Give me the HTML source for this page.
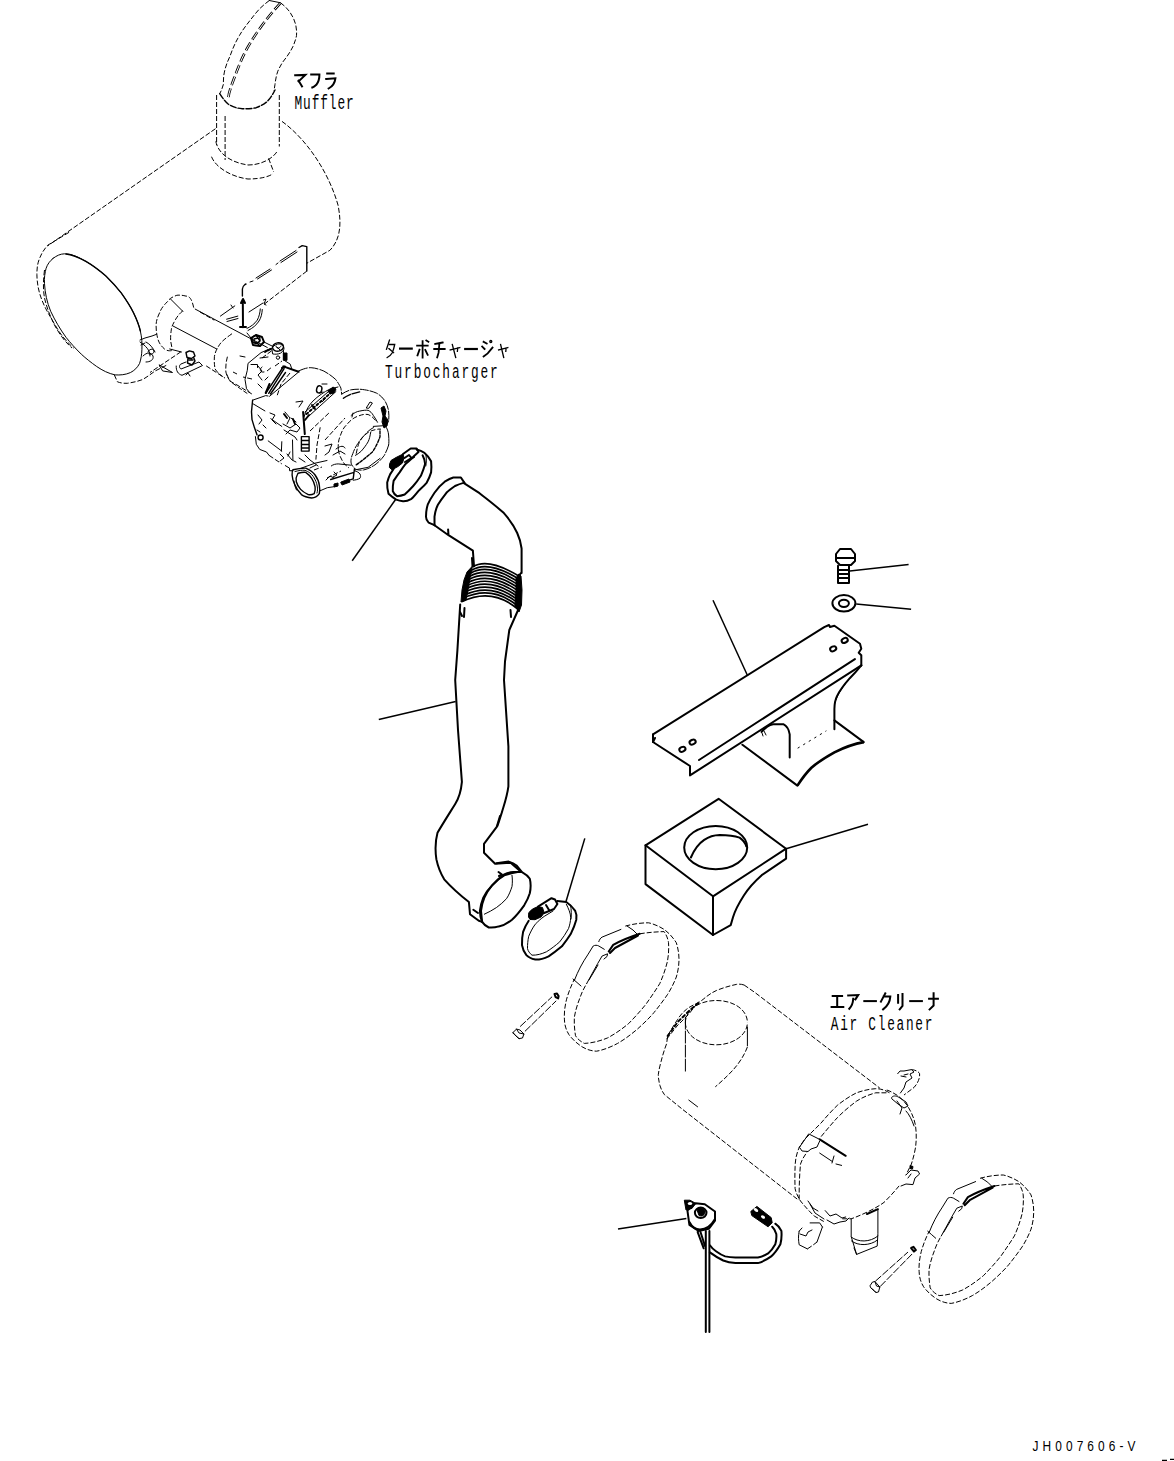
<!DOCTYPE html>
<html><head><meta charset="utf-8">
<style>
html,body{margin:0;padding:0;background:#fff;width:1174px;height:1461px;overflow:hidden}
svg{position:absolute;left:0;top:0}
.s{fill:none;stroke:#000;stroke-width:1;stroke-linecap:round;stroke-linejoin:round}
.d{fill:none;stroke:#000;stroke-width:1;stroke-dasharray:5 2}
.dd{fill:none;stroke:#000;stroke-width:1;stroke-dasharray:3 2}
.t{fill:none;stroke:#000;stroke-width:2;stroke-linecap:round;stroke-linejoin:round}
.k{fill:none;stroke:#000;stroke-width:2;stroke-linecap:round;stroke-linejoin:round}
.k1{fill:none;stroke:#000;stroke-width:1.4;stroke-linecap:round;stroke-linejoin:round}
.f{fill:#000;stroke:#000;stroke-width:1}
.tx{font-family:"Liberation Mono",monospace;fill:#000}
</style></head>
<body>
<svg width="1174" height="1461" viewBox="0 0 1174 1461">
<!-- MUFFLER -->
<g id="muffler">
<path class="d" d="M280.6,2.8 C284,5.5 287.5,8.5 289.9,12.2 C292.5,16 294.5,20 295.6,24.4 C296.5,28 296.8,32 296.5,35.6 C295.8,39.5 294.5,43 292.8,46.8 C290.5,51.5 287.5,56 284.3,60 C281.5,63.5 279.5,67.5 277.8,71.2 C276.3,75.5 275.5,80 275,84.3 L274,90.9"/>
<path class="d" d="M269.3,0.5 C266,3 263,5.5 260,8.4 C256.5,12 253.5,16 250.6,19.7 C246.5,25 242.5,30 239.4,35.6 C235.5,42 232.5,49 230,56.2 C227.5,61.5 225.5,66.5 224.4,72.1 C223.5,76 223.3,80 223.4,84.3 C222.5,87.5 221.5,90.5 219.7,93.7"/>
<path class="s" d="M269.3,0.5 L280.6,2.8"/>
<path fill="none" stroke="#000" stroke-width="2.6" stroke-dasharray="9 3.5" d="M280.6,2.8 C275,9 270,15 265.6,20.6 C261,26.5 256.5,33 252.5,39.4 C248.5,45.5 245,52 242.2,58.1 C239.5,64.5 237,70.5 234.7,76.8 C232.5,82.5 230.5,88 229,93.7 L228,100"/><path fill="none" stroke="#fff" stroke-width="1" stroke-dasharray="9 3.5" d="M280.6,2.8 C275,9 270,15 265.6,20.6 C261,26.5 256.5,33 252.5,39.4 C248.5,45.5 245,52 242.2,58.1 C239.5,64.5 237,70.5 234.7,76.8 C232.5,82.5 230.5,88 229,93.7 L228,100"/>
<path class="k1" stroke-dasharray="6 2" d="M219.7,93.7 C222,97.5 225,101 228.1,104 C232.5,107 237.5,108.5 242.2,108.7 C247,109 251.5,108.7 256.2,107.7 C260.5,106 264.5,104 267.5,101.2 C270.5,98 273,94 275,90"/>
<path class="d" d="M216.6,95 L216.6,145 M225.1,116 L225.1,160 M279.3,95 L279.3,146.5"/>
<path class="d" d="M215.8,141.4 C218,152 228,162 248,165 C262,165 273,158 277,151.6"/>
<path class="d" d="M211.5,156.7 C216,168 232,177 248,179 C262,179 270,176 272.8,173.8 M268.6,158.4 L273.7,172"/>
<path class="d" d="M215.5,128.7 L47.5,246"/>
<path class="d" d="M282,121.4 C305,138 328,170 338,205 C342,225 340,240 329.9,250.3 L306.7,263.3"/>
<path class="d" d="M69.1,232.3 L47.6,245.3 C44,249.5 41.5,253.5 39.9,257.6 C37.5,263 36.8,268.5 36.9,274.5 C37,283 38.5,291 41.5,299 C44,305.5 47,311.5 50.7,317.4 C53.5,322.5 56.5,327.5 59.9,332.7 C63.5,338 68,343 73.7,348.1"/>
<path class="s" d="M53,258.4 C57,255.5 60,254 64.5,253.8 C72,254 79,257.5 85.9,261.4 C93,265.5 99.5,270.5 105.9,276 C111.5,281.5 116.5,287 121.2,292.9 C125.5,299 130,305.5 133.5,312.8 C136.5,319 139,325 140.4,331.2 C141.8,337.5 142.2,343.5 141.9,349.6 C141.8,354.5 141,359 139.6,363.4 C137.5,367.5 134.5,370.5 130.4,372.6 C125.5,374.8 120,375.2 115.1,374.9 C108.5,373.5 102.5,370.5 96.7,366.5 C91,362.5 86,358.5 81.3,354.2 C75.5,348.5 70.5,343 66,337.3 C60,329 55,320.5 50.7,311.3 C47,302.5 45,293 44.5,283.7 C44,278 45,272.5 46.1,268.3 C47.5,264 50,261 53,258.4 Z"/>
<path class="k1" d="M66,254 C72,254.5 79,257.5 85.9,261.4 C93,265.5 99.5,270.5 105.9,276 C111.5,281.5 116.5,287 121.2,292.9 C125.5,299 130,305.5 133.5,312.8 C136.5,319 139,325 140.4,331.2"/>
<path class="d" d="M44.5,270 C43,282 43,292 45,300 C47.5,310 51,318 55,326 C59,333 64,341 72,348"/>
<path class="d" d="M114.3,374.9 L117.4,381.8 C120.5,383 124,383.5 127.3,383.3 C132.5,382.5 137.5,381.5 142.7,379.5 C147,377 151,374 154.9,371.1 L167.2,364.9"/>
<path class="s" d="M140,340 L145,338 L152,336 L156.5,334.3 M141,345 L145,343 M146,342 C150,344 153,348 155,352 M148,352 C149,349 153,348 154,351 C154,354 151,355 149,354"/>
<path class="k1" d="M299,247.5 L302.2,245.6 L306.8,246.6 L306.8,271.1"/>
<path class="d" d="M306.8,271.1 L263.4,304.8"/>
<path class="s" d="M263.4,300 L266,299 L264,304 L266,305 M249,312 L263,303"/>
<path class="k1" d="M242.4,289 C242.5,287 243,286 245,284.5 L246,284 M242.4,289 L242.4,296"/>
<path class="s" d="M256,278 L270,269 M257.5,279 L271.5,270 M280,261 L296,250.5 M281,262.5 L297,252 M250,282 L253,281 M276,264.5 L278,263"/>
<path class="t" d="M242.8,300 L243,327.3 M241,303 L243,299 L245,303 M240,327 L246,327"/>
<path class="s" d="M220.4,316.1 L234.8,305.9 M231,305 L233,308 M226.6,319.2 L237.8,316.1 M227,321.5 L238,318.5"/>
<path class="s" d="M260.3,308.9 C260,313 259,317 257.2,320.2 C254.5,324 251,326.5 247,328.4 M262.3,309.5 C262,314 261,318 259,321 C256.5,325 253,328 248,330.5"/>
</g>

<!-- EXHAUST PIPE + TURBO -->
<g id="turbo">
<path class="d" d="M193.7,307.6 C192,300 190,296 186,296.1 C182,295 178,295 176.8,295.3 C172,297 169,299 167.6,301.5 C163,306 161,309 159.9,312.2 C157,318 156,322 156.1,326 C156,331 157,335 157.6,338.3 C159,343 161,346 164.5,349 C167,351 170,351 172.2,350.5"/>
<path class="s" d="M170.7,299.2 L182.9,311.4"/>
<path class="d" d="M182.9,310.7 C179,314 177,317 175.3,319.9 C173,324 171.5,327 171.4,329.1 C170.5,335 170.5,338 170.7,341.3 L172.2,349"/>
<path class="s" d="M195.2,309.1 L267.3,347.5 M173,326 L216.7,349"/>
<path class="d" d="M180.9,351.8 L150,372.5 M206.2,365.9 L225,378.1 M226.8,374.3 L229.6,380.9 L238.1,385.6 L253.5,395"/><path class="s" d="M169.7,349 L181.5,352"/>
<path class="d" d="M232,333.7 C226,338 222,341 219.7,344.4 C216,350 215,353 214.4,356.7 C214,362 214.5,366 215.1,368.9 C217,372 220,375 222.8,376.6"/>
<path class="d" d="M227.4,356.7 C226,362 225.5,367 225.9,372 C227,377 229,380 232,382.7 C238,387 242,390 247.3,393.5"/>
<path class="d" d="M200,312 L214.3,320.2"/>
<circle class="k1" cx="256" cy="339.5" r="4"/>
<path class="k1" d="M186,352.5 L189.5,350.9 L193.5,352 L195,356 L191.5,358.5 L187,357.5 Z M188,357.5 L187.5,363 L192,365 L195,361 L193.5,357 M189,360 L193,360"/><path class="s" d="M176.2,366 C176,371 178,374 182,375.3 L202.5,365.5 L199,362 L181,369 C179,368 179,365 181,364 L186,362 M186,375 L188,373 L190,376"/><path class="s" d="M159.4,365 L172.5,372.5 L163,371 Z"/>
<path class="s" d="M140,342 C146,346 150,350 150,356 M143,356 C147,352 151,352 153,356 C154,360 150,362 146,362"/>
<path class="s" d="M272,348 C276,342 283,343 284,348 C284,353 278,355 273,354 Z M277,347 L281,351"/>
<path class="s" d="M268,357 L260,358 M245,357 L240,356"/>
<!-- housing upper block -->
<path class="t" d="M251,338 L256,335 L262,337 L264,342 L260,346 L253,345 Z"/>
<path class="k1" d="M254,339 L258,338 L260,341 L257,343 L254,342 Z M256,335 L258,338 M260,346 L257,343"/>
<path class="s" d="M247,333 L251,338 M264,342 L272,346"/>
<ellipse class="k1" cx="278" cy="347" rx="5.5" ry="4.2" transform="rotate(-10 278 347)"/>
<path class="s" d="M276,346 C276,349 280,349 281,346"/>
<circle class="s" cx="278" cy="357.6" r="1.7"/>
<path class="f" d="M283.3,353 L287,353 L287,360.3 L283.3,360.3 Z"/>
<path class="s" d="M271,348.4 L261.1,352.6 L248,363.4 L247.3,370.3 L245,379.5 L246.5,388.7 L249.6,392.5"/>
<path class="t" d="M267.5,350.5 L271,348.8 M265,352 L268,350"/>
<path class="s" d="M283.3,350.3 L284.1,360.3 L290.2,364.1 L291.7,368.7"/>
<path class="s" d="M251,364.5 L257.5,364.5 L257.5,367.5 M258,366 L262,371 L258,375 L262,380 M262,367 C259,369 260,373 264,372 M265,380 L268,377 M258,384 L262,388"/>
<path class="d" d="M262,358 L274,349 M275,366 L282,361 M267,371 L272,367"/>
<path class="k1" d="M265.7,393.3 L282.5,368 M268.7,393.3 L284.1,368.7 M270.5,394 L285.5,372.5"/>
<path class="t" d="M265.7,393 L269.5,384 M282,368 L285,366.5"/>
<path class="t" d="M283.3,366.4 L298.6,371.8"/>
<path class="s" d="M297.9,372.6 L269.5,396.3"/>
<path class="d" d="M290,373 L281,384 L277,396"/>
<path class="d" d="M252,379 L243,377 M237,374 L233,372"/>
<!-- lower housing -->
<path class="s" d="M252.6,400.2 L265.7,395.6 L268,396 M253.4,404 L264.9,410.9"/>
<path class="k1" d="M252.6,400.2 L251.5,411.7 L252,419.6 L254.6,428.1 L257.1,434.9"/>
<path class="s" d="M255.4,436.6 L256.3,444.3 L259.7,449.4 L266.5,452 L269.1,455.4"/>
<circle class="k1" cx="260.6" cy="437.5" r="2.5"/>
<path class="d" d="M269.1,455.4 L281.8,463.9"/>
<path class="s" d="M285.3,465.6 L289.5,468.1 L289.5,470.7 L292.9,470.7"/>
<path class="s" d="M268.2,440.9 L281.8,451.1 M270.8,418.7 L281.8,426.4 M281.8,441.7 L281.4,451.1 M292.5,440 L292.9,459.6"/>
<path class="t" d="M303.1,411.9 L304.8,434.1"/>
<path class="k1" d="M301.4,436.6 L309.1,436.6 L309.1,451.1 L301.4,451.1 Z M301.4,440.5 L309.1,440.5 M301.4,444.5 L309.1,444.5 M301.4,448 L309.1,448"/>
<path class="d" d="M320.2,427.3 L317,445 L315.9,459.6"/>
<path class="s" d="M258,415 L262,420 L259,424 M263,425 L266,428 M257,430 L260,432"/>
<path class="s" d="M270,413 L275,415 L272,420 L276,424 M285,412 L290,418 L287,424 M291,418 L296,422"/>
<path class="t" d="M284,414 L287,418 M293,419 L295,424"/>
<path class="s" d="M283,424 L290,428 L296,424 L300,428 L297,432 L290,430 L286,434 M284,430 L295,437 L297,440 M287,454 L292,460 L296,462"/>
<path class="s" d="M280,454 L284,458 L280,461 M288,456 L290,452"/>
<path class="s" d="M305,455 L310,460 L318,466 M299,458 L305,462 M310,468 L316,465"/>

<!-- compressor -->
<path class="s" stroke-dasharray="9 2" d="M298.6,371 C304,368.5 308,367.5 311.1,367.7 C316,368 320,369.5 323.9,371.1 C329,374 332.5,376.5 335.8,379.6 C338,382.5 340,386 340.9,388.1 L341.7,394.1"/>
<path class="s" stroke-dasharray="8 1.8" d="M341.7,394.1 C345,392 348,390.5 351.1,389.8 C356,389 360,389 364.7,389.8 C369,390.5 373,391.5 376.7,393.2 C380,395 382,397 384.3,400 C386.5,403 388,407 388.6,411.1 C389,415 389,418 388.6,421.3 L385.2,426.4"/>
<path class="k1" stroke-dasharray="8 1.8" d="M343.4,398.3 C346,396 349,395 351.1,394.1 L359.6,391.9"/>
<path class="f" d="M381,408 L384,406 L386,411 L385,416 L388,420 L387,426 L384,428 L382,422 L383,416 Z"/>
<path class="s" d="M373.3,426.4 L385.2,425.6 C387,428 388.5,432 388.6,435 C389,440 389,443 388.6,445.2"/>
<path class="s" stroke-dasharray="8 1.8" d="M388.6,445.2 C387.5,449 386,452 384.3,455.4 C381,460 378,462.5 375,464.8 C371,467.5 367.5,469 363.9,469.9 C360.5,470.5 357.5,470 355.4,469 C353,467 351.5,465 351.1,463.1 C350.5,460 351.5,456.5 352.8,453.7 C354,450 356,446 357.9,443.5 C360,440 362,437.5 364.7,435 C367.5,431.5 370.5,429 374.1,427.3"/>
<path class="s" d="M370.7,432.4 C370,436 369.5,439 368.1,441.8 C366,445.5 363.5,448.5 361.3,451.1 C359,453 357.5,454.5 355.4,455.4"/>
<path class="d" d="M356.2,453.7 C357,449.5 358,445 359.6,441.8 C362,437.5 365,434.5 368.1,432.4 C371.5,430.5 375,429.5 379.2,429"/>
<path class="k1" stroke-dasharray="3 1.5" d="M356.2,464.8 C362,461 367,456.5 372.4,452 C376,447 378.5,441 380,436.7 L380,429"/>
<path class="d" d="M338.3,449.4 C338,444 338.5,440 340,436.7 C342,430.5 344,427 346.8,424.7 C350,420.5 354,417.5 357.9,416.2 C362,414.5 365,414 368.1,414.5 C372,416 374.5,419 376.7,422.2"/>
<path class="d" d="M338.3,449.4 C339,455 341.5,460 344.5,464 L349,468"/>
<path class="s" d="M351.1,415.4 C354,413 356.5,411.5 359.6,411.1 C363,410.3 366,410 368.1,410.3 C370.5,411.5 372,413 373.3,415.4 C375,418 376.5,420 377.5,422.2"/>
<path class="s" d="M352,417 L353,413"/>
<path class="s" d="M366.4,407.7 L370,402 L372.4,403 L369,408 Z"/>
<ellipse class="k1" cx="319.2" cy="389.4" rx="2.6" ry="3.6" transform="rotate(15 319.2 389.4)"/>
<path class="s" d="M305,412 L332,388.5 M309,416 L336,391.5 M304,417 C306,410 309,405 313,401 C318,396 324,392 330,389 L338,387"/>
<path class="t" stroke-dasharray="2 2.5" d="M306.5,414 L334,390"/>
<path class="f" d="M328,391 L333,387 L336,389 L334,393 L330,394 Z"/>
<path class="t" d="M312,405 L315,409 M305,420 L309,415"/>
<path class="s" d="M322,384 L327,384 M320,393 L323,392"/>
<path class="d" d="M310,431 L330,412 M325,440 L345,418 M322,402 L327,397"/>
<path class="s" d="M296,402 L303,401 L299,407"/>
<path class="s" d="M333,455 L340,451 L345,454 M336,449 C341,445 344,446 345,448"/>
<path class="s" d="M325,446 L332,444 L329,452 L325,455"/>
<!-- outlet -->
<path class="k1" d="M292.9,469.8 C298,468.5 302,468 305.7,468.1 C310,470 313,472 315.1,475 C317.5,478.5 319,482 319.3,485.2 C320,489 320,491 319.3,493.7 C317,497 314.5,498 311.7,498 C307,497.5 304,496.5 301.4,494.6 C298,491 296,488 294.6,484.3 C293,481 292.3,478 292.1,475 C292,472 292.3,470.5 292.9,469.8 Z"/>
<path class="s" d="M295,471.5 C299,470.5 302,470 305,470.3 C309,471.8 311.5,474 313.3,476.5 C315.5,480 316.8,483 317.2,486 C317.8,489 317.6,491 317,493 M296.5,490 C295,487 294.2,484 294,481"/>
<path class="k1" d="M298,473.3 C301,472.5 303.5,472 305.7,472.4 C308,474 310,476 311.7,478.4 C313.5,481 314.5,484 315.1,486.9 C315.5,489.5 315,492 314.2,493.7 C312,494.8 310,495 308.3,494.6 C305,493 302.5,491.5 300.6,489.4 C298.5,487 297,484.5 296.3,481.8 C295.5,479 296,477 297.2,475 Z"/>
<path class="s" d="M319.3,491.1 L327.3,487.7 L336.8,486.3 M300,468.6 L315,463.2 L327,460.5"/>
<path class="k1" d="M340.9,482.9 L353.2,478.8 L354.5,468.6 M330.7,479.5 L353.2,472.7"/>
<path class="s" d="M331.3,465.9 C333,464.5 336,463.9 338.2,463.9 L351.1,465.2"/>
<path class="s" d="M354.5,470 L368.1,467.3 L380,458.4"/>
<path class="s" d="M354.5,470.7 C357,471.5 359,472.5 360,474 C361,476 360.5,477.5 360,478.2 C358,479.5 355.5,480 353.2,480.2"/>
<path class="d" d="M327,478 L341,471 M314,470 L322,467"/>
<path class="f" d="M341,482 L349,479 L350,482 L342,485 Z M334,484 L338,483 L338,486 L334,487 Z"/>
<path class="s" d="M334,472 L337,475 L333,477"/>
<path class="s" d="M326,480 L330,476 L334,478"/>
</g>

<!-- HOSE + CLAMPS -->
<g id="hose">
<!-- clamp 1 -->
<path class="t" d="M416.6,449.4 C419.5,450 422,451 424.3,452.8 C427.5,455.5 429.5,458 431.1,461.3 C431.5,465 431.5,469 431.1,472.4 C430,476 428.5,479.5 426.8,482.6 C424,486 421,488.5 418.3,491.1 C416,494 414,496.5 411.5,498.8 C408.5,500.5 406,501.5 403,501.3 C400.5,501 398.5,500.5 396.2,499.6 C393,497.5 390.5,495.5 388.5,493.7 C387.5,490 387,486 387.2,482.6 C388,479.5 389,476.5 390.2,474.1 L393.6,469"/>
<path class="k" d="M422.6,455.3 C424,458 425,461 425.1,463.9 C424,468 422.5,472 420.9,475.8 C418.5,479.5 416,483 413.2,486 C410.5,489 407.5,492 404.7,494.5 C402,495.5 399.5,496 397,496.2 C395,495 393.5,493 392.8,491.1 C392.5,487.5 393,484 393.6,480.9 C395.5,478 397.5,475 399.6,472.4 C401.5,469.5 403.5,466.5 405.6,463.9 C408.5,461.5 411,459 414.1,457"/>
<path class="s" d="M426,455.5 C426.5,459 426.5,463 425.8,466"/>
<path class="f" d="M389.6,464 L391,460.5 L396,457.5 L403,454 L404,458 L402.5,463 L398,466.5 L392,469.8 L389.4,467.5 Z"/>
<path class="k" d="M403,454 L410.7,448.5 L416.6,448.5 L418.5,452 L413,457 L405,462 M404.5,458 L409,455 L411,457.5"/>
<path fill="none" stroke="#000" stroke-width="1.5" d="M395.4,499.8 L352.2,560.7"/>
<!-- hose top -->
<path class="t" d="M453.3,477.5 L460.9,477.5 L464.3,482.6 M453.3,477.5 C450,478.5 447.5,480 444.7,481.7 C441,484.5 437.5,488.5 434.5,492.8 C432,496.5 429.5,500.5 427.7,504.7 C426.5,508.5 426,512.5 426,516.7 C426,519 427,521 428.6,522.6 L434.5,525.2"/>
<path class="t" d="M464.3,482.6 C461,483.5 458,484.5 455,486 C452,488 449,490 446.4,492.8 C443.5,496.5 440.5,500.5 437.9,504.7 C436,508.5 435,512.5 434.5,516.7 L434.5,525.2"/>
<path class="k" d="M464.3,483.4 L479.5,493.2 C488,500 496,506 503.9,513.1 C510,520 514,526 517.2,533 C520,539 521,544 521.6,548.5 L521.6,572.9"/>
<path class="k" d="M434.5,525.2 L448.5,535.2 L448.1,529.4 M448.5,535.2 L472.9,550.7 L474,566.2"/>
<!-- bellows -->
<path fill="none" stroke="#000" stroke-width="1.7" d="M472.5,567.0 Q487.6,557.1 518.8,576.0 M471.5,570.2 Q488.0,559.8 518.7,579.0 M470.5,573.3 Q488.4,562.5 518.7,582.1 M469.5,576.5 Q488.8,565.3 518.6,585.1 M468.5,579.7 Q489.2,568.0 518.5,588.1 M467.5,582.8 Q489.6,570.7 518.5,591.1 M466.6,586.0 Q489.9,573.4 518.4,594.2 M465.6,589.1 Q490.3,576.2 518.4,597.2 M464.6,592.3 Q490.8,578.9 518.3,600.2 M463.6,595.5 Q491.1,581.6 518.2,603.2 M462.6,598.6 Q491.5,584.3 518.2,606.3 M461.6,601.8 Q491.9,587.0 518.1,609.3"/>
<path class="f" d="M472.5,566 L467,572 L464,580 L462,590 L461,602 L466,600 L468,590 L470,578 Z"/>
<path class="f" d="M518.8,574 L521,576 L522,590 L521.5,605 L519,612 L515,606 L516,590 L516,578 Z"/>
<path class="k" d="M472.5,566 L472,558 M518.8,576 L520.9,573.2"/>
<path class="k" d="M460.2,604.5 L457.4,650.4 L455.2,680 L458,730 L461.9,781.9 C461,792 459,798 455.2,804 C449,814 442,825 437.5,832.8 C435,842 435,850 436.4,859.4 C438,867 441,874 444.2,879.3 C452,888 460,895 468.9,902 L470,914.2 L478.8,920.8 L482.1,921.9"/>
<path class="k" d="M518.1,610 L509.3,630 L505,661.5 L504,680 L508.4,746.4 L508.4,786.3 C507,797 504,805 501.7,812.9 C500,818 499,822 497.3,826.2 L484,843.9 L484,852.8 L495.1,863.8 L510.6,862.7 L519.5,870.5"/>
<path class="k" d="M464.5,608 L464,617 M460,612 L462,616"/>
<path class="k" d="M510.5,610 L511,617"/>
<path class="t" d="M500,816 L497,826"/>
<!-- hose bottom end -->
<path class="k" d="M496.5,863.3 L508.7,861.6 C511.5,862.5 514,863.5 516.5,865.5 L522,872.1 C525.5,874 528,876 529.8,878.8 C531,883.5 530.8,888.5 529.8,893.2 C528.5,897.5 526.5,901.5 524.2,905.3 C520.5,910.5 516.5,915.5 512,919.7 C508,923 503.5,925.5 498.8,926.4 C495.5,927.5 492,927.8 488.8,927.5 C485.5,926 483.5,924 482.1,921.9 C480.5,918.5 480,914.5 479.9,910.9 C480.5,906.5 481.5,902 483.3,897.6 C485.5,893 488.5,889 492.1,885.4 C495.5,881.5 499.5,877.5 504.3,874.3 C507,873 510,872.3 513.2,872.1 L522,872.1"/>
<path class="t" d="M517.6,872.1 C512.5,873 508.5,874 504.3,875.4 C499.5,878 495.5,881.5 492.1,885.4 C489,889 486.5,893 484.4,897.6 C482.5,902 481.5,906.5 481,910.9 L482.1,921.9"/>
<path class="s" d="M512,875.4 C512.5,879 512.5,883 512,886.5 C510.5,891 509,895 506.5,898.7 C503.5,902 500,905 496.5,907.5 C492.5,910 488.5,912.5 484.4,914.2"/>
<path class="k" d="M498.5,872 L502,874.5 L499,876 M473.3,909.7 L478,913"/>
<path fill="none" stroke="#000" stroke-width="1.5" d="M378.8,719.4 L455.7,701.5"/>
<!-- clamp 2 -->
<path class="k" d="M557.4,900.9 L566.3,902 C570,904.5 573,907.5 575.2,910.9 C576.5,913.5 576.8,916.5 576.3,919.7 C575,924.5 573,929.5 570.7,934.1 C568,938.5 565,942.5 561.9,946.3 C557.5,950 553,953.5 548.6,956.3 C544,958.5 539.5,959.8 535.3,959.6 C531.5,958.8 528.5,957.5 526.4,955.2 C524,952 522.5,948.5 522,945.2 C521.8,940.5 522.2,936 523.1,931.9 C524.5,928 526.5,924 528.7,920.8"/>
<path class="s" d="M566.3,904.2 C568.5,908.5 570.5,913 570.7,917.5 C570.5,921.5 569.8,925 568.5,928.6 C566,933.5 563,937.5 559.7,941.9 C555.5,945.5 551,949 546.4,951.8 C541.5,954 537,955.3 532,955.2 C529.8,953.5 528,951 527.5,948.5 C527.5,944.5 527.8,940.5 528.7,936.3 C530.5,932 532.5,928 535.3,924.2 C538,921.5 541,918.5 544.2,916.4 L553,911"/>
<path class="s" d="M570.5,905 C571.5,910 571.5,915 571,919"/>
<path class="f" d="M528.7,913 C530.5,910 534,908 538,906.6 L542.5,907.5 L544.2,913 L541,917 L535,919.7 L530,919.5 L528.5,917 Z"/>
<path class="k" d="M538,906.6 L551.5,898.2 L555,899.5 L557.4,904 L554,909 L544.2,913 M546,905 L549,910"/>
<path fill="none" stroke="#000" stroke-width="1.5" d="M584.8,838.4 L566,901.5"/>
</g>

<!-- BRACKET, BOLT, WASHER, BOX -->
<g id="bracket">
<path class="k" d="M653,734.4 L824.2,627.1 L829,625 L830,627 L834.4,625.8 L860,643.7 L861.3,648.8 L858.7,652.7 L861.3,655.2 L861.3,665.4"/>
<path class="k" d="M653,734.4 L653,742 L656,744 L690,766 L690,775.4 L861.3,665.4"/>
<path class="k" d="M653,742 L655,738 M699,760 L854.9,659.1"/>
<ellipse class="k" cx="692.6" cy="742.1" rx="3.2" ry="2.3" transform="rotate(-25 692.6 742.1)"/>
<ellipse class="k" cx="682.4" cy="749.3" rx="3.2" ry="2.3" transform="rotate(-25 682.4 749.3)"/>
<ellipse class="k" cx="833.2" cy="648.8" rx="3.2" ry="2.3" transform="rotate(-25 833.2 648.8)"/>
<ellipse class="k" cx="844.7" cy="640.4" rx="3.2" ry="2.3" transform="rotate(-25 844.7 640.4)"/>
<path class="k" d="M861.3,665.4 C856,672 853,675 849.8,678.2 C843,686 839,692 837,696.1 C835,700 834.5,704 834.4,708.9 L834.4,729.3"/>
<path class="s" d="M848,680 C842,688 838,694 836,700"/>
<path class="k" d="M834.4,720.4 L863.8,742.1"/>
<path fill="none" stroke="#000" stroke-width="2.6" d="M863.8,742.1 C853,744 843,748 834.4,752.3 C826,757 818,762 811.4,767.7 C805,774 801,780 797.4,785.6"/>
<path class="k" d="M797.4,785.6 L742.4,744.7"/>
<path class="k" d="M761.6,731.9 C765,728 769,725 773.1,724.2 L783.3,724.2 C787,726 789,730 789.7,734.4 L789.7,757.4"/>
<path class="s" d="M763,736 L762,733 M766,735 L764,731"/>
<path class="s" stroke-dasharray="1.5 5" d="M798,748 L826,731"/>
<path fill="none" stroke="#000" stroke-width="1.5" d="M713,600.3 L747.6,675.7"/>
<!-- bolt -->
<path class="k" d="M836,554 L840,549 L851,549 L855,554 L855,561 L851,565 L840,565 L836,561 Z M836,558 L855,558"/>
<path class="k" d="M838,565.8 L838,583 L849,583 L849,565.8 M838,570 L849,570 M838,574 L849,574 M838,578 L849,578"/>
<path fill="none" stroke="#000" stroke-width="1.5" d="M849.8,570.9 L908.6,564.5"/>
<!-- washer -->
<ellipse class="k" cx="843.9" cy="603.3" rx="11.5" ry="8.2"/>
<ellipse class="k" cx="843.9" cy="603.3" rx="5" ry="3.6"/>
<path fill="none" stroke="#000" stroke-width="1.5" d="M856.2,604.1 L911.1,609.2"/>
</g>
<g id="box">
<path class="k" d="M645.5,845.3 L718.6,798.8 L786.1,848.7 L713,896.3 Z"/>
<path class="k" d="M645.5,845.3 L645.5,884.1 L713,935 L713,896.3"/>
<path class="k" d="M786.1,848.7 L786.1,858.6 L761.7,875.2 C754,882 748,889 744,895.2 C739,903 735,910 733,917.3 L730.7,925.1 L713,935"/>
<ellipse class="k" cx="715.7" cy="847.6" rx="31.5" ry="21.7"/>
<path class="k" d="M690.9,857.5 C694,850 698,844 704.2,839.8 C709,836.5 714,835 719.7,834.9 C728,835 735,836 739.6,837.6 C743,840 745.5,843 746.2,846.4"/>
<path fill="none" stroke="#000" stroke-width="1.5" d="M786.1,848.7 L868,824.3"/>
</g>

<!-- AIR CLEANER GROUP -->
<g id="aircleaner">
<!-- clamp band 1 -->
<path class="d" d="M625.3,926.1 C633,924 641,922.8 648.6,922.8 C654,924 659.5,926.5 664.1,929.4 C669,933 673,937.5 676.3,942.7 C678,948 679,953.5 679,959.3 C679,965.5 678,971.5 676.3,977 C674,983 671,989 667.4,994.7 C663,1001 658.5,1007 654.1,1012.4 C649,1018.5 643,1024 637.5,1029 C631,1034.5 624.5,1039.5 617.6,1043.4 C611,1047 603.5,1050 596.5,1051.2 C591.5,1051 586.5,1049.5 582.1,1046.8 C577,1043.5 572.5,1039.5 568.9,1034.6 C566,1030 564.5,1024.5 564.4,1019.1 C564,1012.5 565,1005.5 566.6,999.2 C568.5,992.5 571,986 574.4,979.2"/>
<path class="d" d="M639.7,933.8 C648,932.5 656,931.8 664.1,931.6 C666.5,935 668,939 668.5,942.7 C669,949 668.5,955.5 667.4,961.5 C665.5,969 663,976.5 659.7,983.7 C655.5,990.5 651,997 646.4,1003.6 C641,1010.5 635,1017 628.7,1023.5 C622,1029 615,1034 607.6,1037.9 C600,1041 592.5,1043 584.4,1043.4 C580.5,1041.5 577.5,1039 575.5,1035.7 C574.5,1029.5 574,1023 574.4,1016.9 C575.5,1010.5 577.5,1004 579.9,998 C581.5,993 584,988 586.6,983.7"/>
<path class="s" d="M574.4,980.3 C578,971 582.5,962.5 587.7,954.9 L593.2,946 C595,945 597,945 598.8,946 L604.3,949.3 M598.8,941.6 C599.5,939.5 600.5,938 602.1,937.1 L620.9,929.4"/>
<path class="s" d="M586.6,983.7 L597.6,963.7 L602.1,956 L607.6,953.8 L607,956.5 L604,959 M589,980 L598,965"/>
<path class="k" d="M608.7,951.5 L613.2,944.9 C621,940.5 630,937 639.7,933.8 M610,953 L615,948 L638,935.5"/>
<path class="s" d="M573,979 L577,982.5 L581,986 M627,926 L633,930 L637,934"/>
<!-- bolt 1 -->
<path class="s" stroke-dasharray="7 2.5" d="M520.4,1026.3 L551.8,997 M525.2,1031.1 L555.9,1001.1"/>
<path class="k" d="M554.5,994 L557,993.6 L558.6,996 L558.2,998.4 L555.5,997 Z"/>
<path class="s" d="M513,1032.5 L516.5,1029.1 L520,1030 L523.9,1034 L522.5,1038 L519,1038.6 L515,1035 Z M516.5,1029.1 L519,1033 L523.9,1034 M513,1032.5 L516,1036 L519,1038.6"/>
<!-- air cleaner body -->
<path class="d" d="M744.1,985 L755.2,992.7 L879.8,1088.1"/>
<path class="d" d="M744.1,985 C741,984 738.5,984 736.4,984.4 C729,986 722.5,988 716.4,990.5 C711,993 707,996 703.1,999.4 L698.7,1002.7 C694,1004.5 690,1006.5 686.5,1009.3 C683,1012 680,1015.5 677.7,1019.3 C674,1025 670.5,1030.5 667.7,1035.9 L666.6,1043.7 C664.5,1049.5 662.5,1055.5 661.1,1061.4 C659.8,1066 658.8,1070.5 658.3,1074.7 C658.3,1078.5 659,1082 660,1085.7 C661,1089 662.5,1092 664.4,1094.6 L682.1,1109 L798.1,1199.8"/>


<path class="d" d="M716.4,1000.5 C734,1000.5 747.4,1010 747.4,1022.6"/><path class="s" d="M747.4,1027 L747.4,1045.9"/><path class="d" d="M747.4,1047 C744,1056 738.5,1064 733,1070 C727,1076.5 721,1082 715.3,1086.8"/>
<path class="d" d="M685.4,1022.6 C685.4,1035 699,1044.8 716.4,1044.8 C733,1044.8 747.4,1035 747.4,1022.6 M685.4,1022.6 C685.4,1010 699,1000.5 716.4,1000.5"/><path class="s" stroke-dasharray="12 2" d="M685.4,1017.1 L685.4,1072.4"/>
<path class="t" stroke-dasharray="3 3" d="M667.7,1035.9 L677.7,1022 L690,1010 L698.7,1002.7"/><path class="d" d="M666.6,1039.2 L677,1026 L688,1015 L698.7,1001.6"/><path class="s" d="M688.8,1100.1 L697.6,1106.8"/>
<path class="d" d="M886.8,1090 C890,1091 893.5,1093 897.7,1095.6 C902,1099 906,1103 908.7,1107.9 C912,1113.5 914.5,1119.5 915.5,1125.7 C916.5,1133 916.5,1140.5 915.5,1147.6 C914.5,1153.5 913,1159 911.4,1164 L906,1175 M899.1,1185.9 C894.5,1191.5 889.5,1197 884,1202.4 C879,1206 873.5,1209 867.6,1211.9 C862,1214.5 856.5,1217 851.2,1218.8 L840.2,1218.8"/>
<path class="d" d="M889.5,1092.8 C885,1090 880.5,1088.7 875.8,1088.7 C869.5,1089 863,1090.5 856.6,1092.8 C850,1096 843.5,1100.5 837.5,1105.2 C832,1110.5 826.5,1116.5 821.1,1123 L810.1,1133.9 C805.5,1138 802,1142.5 799.2,1147.6 C796.5,1153.5 795.2,1160 795.1,1166.8 C794.8,1174 794.8,1181.5 795.1,1188.7 C796,1193 798,1197 800.5,1201 C804.5,1206 809,1211 814.2,1216 L823.8,1221.5"/>
<path class="d" d="M821.1,1136.6 C826.5,1130 832,1123.5 837.5,1117.5 C843.5,1111.5 850,1106 856.6,1101.1 C863,1097 869.5,1094.5 875.8,1092.8 L886.8,1092.8 M799.2,1199.6 C799,1187.5 799.5,1175.5 800.5,1164 C802,1159.5 804.5,1155.5 807.4,1151.7"/>
<path class="s" d="M799.2,1147.6 L808.7,1133.9 L819.7,1139.4 L845.7,1155.8 M800,1148 L802,1151 L808,1151.5 L811,1149 L817,1147 L819.7,1141 M819.7,1153.1 L832,1161.3 M834,1156 L832,1163 M836,1164 L841.6,1165.4"/>
<path class="k" d="M819.7,1139.4 L845.7,1155.8"/>
<path class="s" d="M799.2,1231.1 L802,1228 M810.1,1222.9 L819.7,1222.9 L822.4,1227 M799.2,1231.1 C798,1236 798.5,1241 799.2,1244.8 L807.4,1248.9 M817,1242 L822.4,1227 M800,1234 L806,1236 L808,1232 L812,1230"/>
<path class="d" d="M807.4,1248.9 C811,1246.5 814,1244.5 817,1242"/>
<path class="s" d="M825.2,1210.6 L830,1216 L836,1214 L842,1218 L845.7,1217 M827,1220 L834,1224 L840,1222 L846,1221 L849,1218"/>
<path class="s" d="M808,1201 L813,1208 L818,1211 M810,1204 L815,1213 L824,1219"/>
<path class="s" d="M851.2,1218.8 L851.2,1236.6 L856.6,1254.4 L877.2,1246.1 L877.9,1233.8 L877.9,1209.2 M851.2,1237 C858,1242.5 870,1242.5 877.9,1236 M851.5,1241 C858,1246 870,1246 877.5,1240 M856.6,1254.4 L854,1248"/>
<path class="t" d="M867,1214 L877.9,1209.2"/>
<path class="s" d="M897.7,1073.7 L900,1071 L904,1071 L911.4,1069.6 L914,1072 L910,1074 L912,1078 L906,1082 L904,1088 L900.4,1093 M904,1075 L908,1074 M901,1076 L906,1077"/>
<path class="d" d="M911.4,1069.6 C916,1070 919,1072 919.6,1073.7 C920,1078 918,1083 914.1,1087.4 L904,1095"/>
<path class="s" d="M892,1097 C894,1095 897,1096 900,1098 L906,1102 L908,1106 L904,1108 L898,1104 L892,1099 Z M897,1101 L902,1108 L900,1114 M906,1111 C909,1114 912,1120 914,1126"/>
<path class="s" d="M905.9,1175 L911,1170 L918,1171 L919.6,1174 L915,1178 L913,1184.6 L906,1184 L901,1186 M908,1178 L911,1174"/>
<path class="f" d="M910,1165.5 L913,1166.5 L912.5,1169 L910,1168.5 Z"/>
<!-- clamp band 2 -->
<g transform="translate(354.7,252.2)">
<path class="d" d="M625.3,926.1 C633,924 641,922.8 648.6,922.8 C654,924 659.5,926.5 664.1,929.4 C669,933 673,937.5 676.3,942.7 C678,948 679,953.5 679,959.3 C679,965.5 678,971.5 676.3,977 C674,983 671,989 667.4,994.7 C663,1001 658.5,1007 654.1,1012.4 C649,1018.5 643,1024 637.5,1029 C631,1034.5 624.5,1039.5 617.6,1043.4 C611,1047 603.5,1050 596.5,1051.2 C591.5,1051 586.5,1049.5 582.1,1046.8 C577,1043.5 572.5,1039.5 568.9,1034.6 C566,1030 564.5,1024.5 564.4,1019.1 C564,1012.5 565,1005.5 566.6,999.2 C568.5,992.5 571,986 574.4,979.2"/>
<path class="d" d="M639.7,933.8 C648,932.5 656,931.8 664.1,931.6 C666.5,935 668,939 668.5,942.7 C669,949 668.5,955.5 667.4,961.5 C665.5,969 663,976.5 659.7,983.7 C655.5,990.5 651,997 646.4,1003.6 C641,1010.5 635,1017 628.7,1023.5 C622,1029 615,1034 607.6,1037.9 C600,1041 592.5,1043 584.4,1043.4 C580.5,1041.5 577.5,1039 575.5,1035.7 C574.5,1029.5 574,1023 574.4,1016.9 C575.5,1010.5 577.5,1004 579.9,998 C581.5,993 584,988 586.6,983.7"/>
<path class="s" d="M574.4,980.3 C578,971 582.5,962.5 587.7,954.9 L593.2,946 C595,945 597,945 598.8,946 L604.3,949.3 M598.8,941.6 C599.5,939.5 600.5,938 602.1,937.1 L620.9,929.4"/>
<path class="s" d="M586.6,983.7 L597.6,963.7 L602.1,956 L607.6,953.8 L607,956.5 L604,959 M589,980 L598,965"/>
<path class="k" d="M608.7,951.5 L613.2,944.9 C621,940.5 630,937 639.7,933.8 M610,953 L615,948 L638,935.5"/>
<path class="s" d="M573,979 L577,982.5 L581,986 M627,926 L633,930 L637,934"/>
</g>
<!-- bolt 2 -->
<path class="s" stroke-dasharray="7 2.5" d="M875.7,1280.9 L907.7,1252.3 M880.4,1286.3 L911.8,1254.3"/>
<path class="k" d="M911.1,1248 L913.5,1246.8 L915.9,1250 L914,1251.6 Z"/>
<path class="s" d="M870.2,1285.5 L872.5,1282 L875,1281.6 L879.8,1287 L878.5,1292 L876,1292.5 L871,1288 Z M875,1281.6 L876.5,1286 L879.8,1287 M871,1288 L874,1290.5 L876,1292.5"/>
<!-- sensor -->
<path fill="none" stroke="#000" stroke-width="1.5" d="M618,1229 L686.4,1218.6"/>
<path class="k" d="M687.4,1210.4 L695.6,1203.3 L704.8,1204.3 L715,1211.5 L715,1220.7 L708.8,1228.8 L698.6,1230.9 L689.4,1224.8 Z"/>
<path class="f" d="M684.3,1200.2 L690,1200.2 L695.6,1203.3 L692,1208.4 L686,1210 Z"/>
<ellipse fill="#fff" stroke="none" cx="690" cy="1203.5" rx="2.2" ry="1.6"/>
<ellipse class="t" cx="700.7" cy="1212.8" rx="5.8" ry="5.2"/>
<path class="f" d="M697,1210 C699,1207 704,1207.5 705,1211 C705.5,1215 702,1217 699,1215.5 Z"/>
<path class="t" d="M689.4,1222 C692,1227 696,1229.5 700,1229.5 C705,1229.5 711,1226 715,1219"/>
<path class="k" d="M697.6,1231.9 L703.7,1248.3 M700.5,1232 L705,1246"/>
<path class="k" d="M705.8,1230.9 L705.8,1332 M709.4,1230.9 L709.4,1332"/>
<path class="k" d="M709.9,1245.2 C711.5,1247.5 713.5,1249.5 716,1251.3 C719,1253.5 722,1255.3 725.2,1256.4 C728.5,1257.2 732,1257.5 735.4,1257.5 L757.9,1257.5 C761.5,1256.8 765,1255.5 768.1,1253.4 C771,1251 773.5,1247.5 775.3,1244.2 C776.3,1241 776.6,1237.5 776.3,1234 C775.5,1231 774,1228.5 772.2,1226.8"/>
<path class="k" d="M709.9,1252.4 C714,1255.5 718.5,1258.2 723.2,1260.5 C727,1262 731,1262.8 735.4,1263.1 L757.9,1263.1 C762.5,1261.8 767,1259.5 771.2,1256.4 C775,1253 778,1248.5 780.4,1244.2 C781.5,1240 781.8,1235.5 781.4,1230.9 C780,1228 778,1225.5 775.3,1223.7"/>
<path class="f" d="M750.8,1211.5 L756.9,1206.4 L771.2,1217.6 L772.2,1222.7 L768.1,1226.8 L751.8,1215.6 Z"/>
<ellipse fill="#fff" stroke="none" cx="756" cy="1210" rx="2.5" ry="1.6" transform="rotate(35 756 1210)"/>
<ellipse fill="#fff" stroke="none" cx="763" cy="1217" rx="2.2" ry="1.4" transform="rotate(35 763 1217)"/>
</g>

<!-- LABELS -->
<g id="labels">
<g fill="none" stroke="#000" stroke-width="2" stroke-linecap="square" stroke-linejoin="miter">
<!-- マフラ -->
<path d="M295.2,75.2 L305.4,74.9 L298.6,81.4 M298.6,80.7 L302,86.5"/>
<path d="M311.2,74.5 L319.4,74.5 C319.5,79 318.5,82 316.3,84.8 C315,86 314,87 312.3,87.5"/>
<path d="M327.2,73.5 L333.7,73.5 M326.2,79 L335.4,78.3 C335,82 333,86 328.6,88.5"/>
<!-- エアークリーナ -->
<path d="M832.7,996.1 L842.1,996.1 M837.2,996.1 L837.2,1007.1 M831.6,1007.1 L843.3,1007.1"/>
<path d="M848.2,995.5 L858.2,995 L855.4,999.4 M853.2,998.8 C853,1003 851.5,1006.5 849.3,1008.8"/>
<path d="M864.3,1001.1 L875.9,1001.1"/>
<path d="M885.3,993.3 L880.9,1001.6 M883.7,996.6 L890.3,996.6 C890,1001 889,1005 883.1,1009.4"/>
<path d="M898.1,995 L898.1,1002.7 M902.5,993.9 L902.5,1006 L899.7,1009.4"/>
<path d="M910.2,1001.1 L921.9,1001.1"/>
<path d="M929.1,998.8 L937.9,998.8 M933.6,993.3 L933.6,1005.5 L929.6,1009.4"/>
</g>
<g fill="none" stroke="#000" stroke-width="1.3" stroke-linecap="square">
<!-- ターボチャージャ -->
<path d="M389.5,340.1 L386.5,349.3 M389.5,344.5 L394.7,344.5 C394,348 393,351 392.3,352.7 C391,355 389,356.5 387.2,357.5 M388.9,348.6 L393.6,352.7"/>
<path stroke-width="2.2" d="M400.1,348.6 L411.7,348.6"/>
<path stroke-width="1.8" d="M417.1,345.6 L427.7,345.6 M422.6,341.1 L422.6,357.5 M419.5,349.7 L417.5,355.4 M425.3,350 L427.7,354.8 M426.3,340.5 L428.4,341.8"/>
<path stroke-width="1.8" d="M435.2,343.9 L442.7,342.5 M434.2,349 L444.7,349 M439.3,344.5 L438.6,352.7 L437.2,357.5"/>
<path d="M450.2,350 L459.8,347.6 M452.3,344.5 L455.7,357.5 M457.7,347.9 L457.4,351.4"/>
<path stroke-width="2.2" d="M465.2,349 L476.8,349"/>
<path stroke-width="1.8" d="M483.6,341.8 L486.7,343.5 M482.2,346.6 L484.6,349 M492.5,347.6 L487.7,353.4 L483.6,356.5"/>
<circle cx="490.8" cy="341.5" r="1"/>
<path d="M498.6,350 L507.8,347.6 M500.6,344.5 L503.7,357.5 M506.1,347.9 L505.8,351.4"/>
</g>
<text class="tx" transform="translate(294.5,108.6) scale(0.8,1.29)" font-size="16" textLength="74" lengthAdjust="spacing">Muffler</text>
<text class="tx" transform="translate(385,377.9) scale(0.8,1.29)" font-size="16" textLength="141" lengthAdjust="spacing">Turbocharger</text>
<text class="tx" transform="translate(830.8,1029.8) scale(0.8,1.29)" font-size="16" textLength="127" lengthAdjust="spacing">Air Cleaner</text>
<text class="tx" transform="translate(1032.6,1451.1) scale(0.85,1.02)" font-family="Liberation Sans" style="font-family:'Liberation Sans',sans-serif" font-size="14" textLength="121" lengthAdjust="spacing">JH007606-V</text>
<path fill="none" stroke="#000" stroke-width="1.3" d="M1162,1460.3 L1167,1460.3 M1170,1459.3 L1174,1459.3"/>
</g>
</svg>
</body></html>
